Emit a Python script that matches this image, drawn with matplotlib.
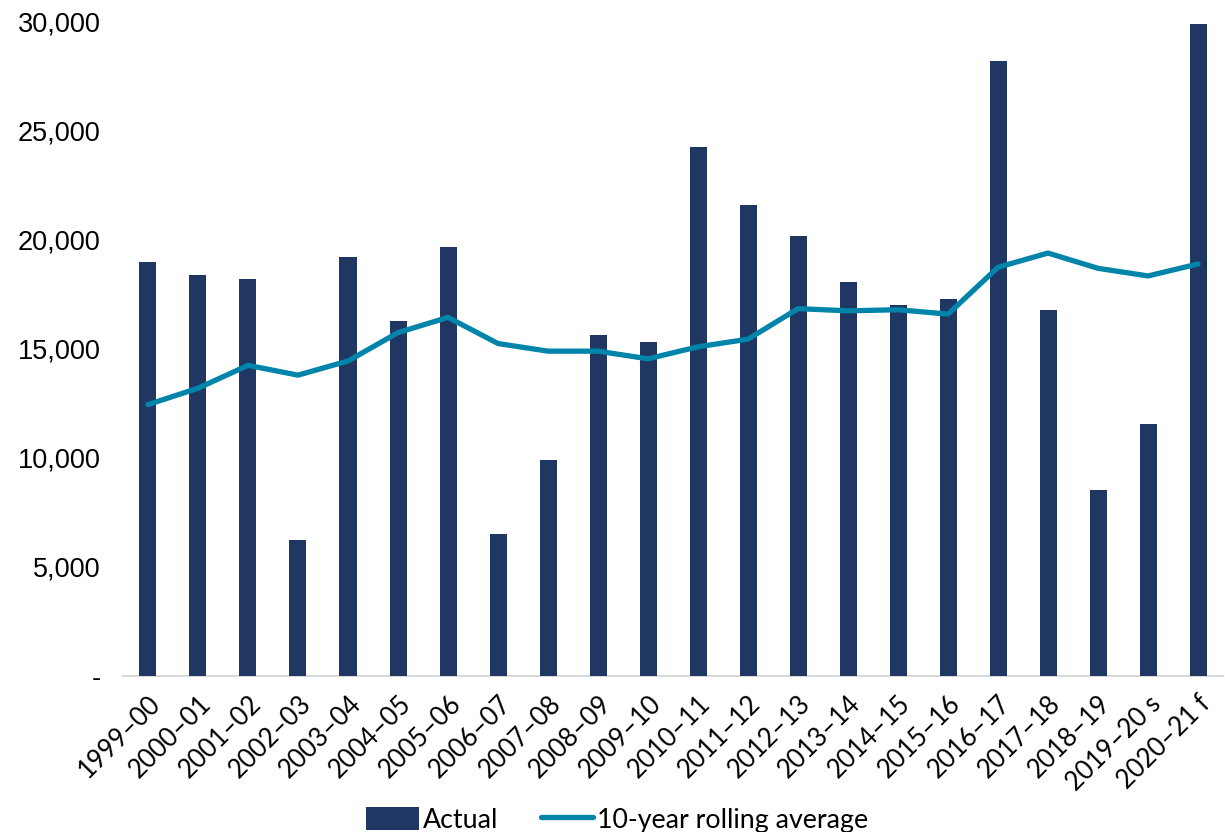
import matplotlib
matplotlib.use('Agg')
import matplotlib.pyplot as plt
import numpy as np
from matplotlib.ticker import FuncFormatter

# data
years = ['1999–00', '2000–01', '2001–02', '2002–03', '2003–04', '2004–05',
         '2005–06', '2006–07', '2007–08', '2008–09', '2009–10', '2010–11',
         '2011–12', '2012–13', '2013–14', '2014–15', '2015–16', '2016–17',
         '2017–18', '2018–19', '2019–20 s', '2020–21 f']
actual = [19000, 18400, 18200, 6250, 19200, 16300,
          19700, 6500, 9900, 15650, 15300, 24250,
          21600, 20200, 18050, 17000, 17300, 28200,
          16800, 8550, 11550, 29900]
rolling_avg = [12450, 13200, 14250, 13800, 14450, 15750,
               16450, 15250, 14900, 14900, 14550, 15100,
               15450, 16850, 16750, 16800, 16600, 18750,
               19400, 18700, 18350, 18900]

bar_color = '#213763'
line_color = '#0084A9'

fig = plt.figure(figsize=(12.25, 8.32), dpi=100)
ax = fig.add_axes([0.1004, 0.1875, 0.898, 0.7861])

x = np.arange(len(years))
bars = ax.bar(x, actual, width=0.34, color=bar_color, label='Actual', zorder=2)
line, = ax.plot(x, rolling_avg, color=line_color, lw=3.8, solid_joinstyle='round',
                solid_capstyle='round', label='10-year rolling average', zorder=3)

ax.set_xlim(-0.5, len(years) - 0.5)
ax.set_ylim(0, 30000)
ax.set_yticks(np.arange(0, 30001, 5000))
ax.yaxis.set_major_formatter(FuncFormatter(lambda v, p: '-' if v == 0 else f'{int(v):,}'))

for s in ['top', 'right', 'left']:
    ax.spines[s].set_visible(False)
ax.spines['bottom'].set_color('#D9D9D9')
ax.spines['bottom'].set_linewidth(1.5)
ax.spines['bottom'].set_zorder(1)

ax.tick_params(axis='y', length=0, pad=16, labelsize=19.5)
ax.tick_params(axis='x', length=0, pad=11)
for lab in ax.get_yticklabels():
    lab.set_fontfamily('Liberation Sans')

ax.set_xticks(x)
ax.set_xticklabels(years, rotation=45, ha='right', rotation_mode='anchor',
                   fontsize=18.5, family='Lato')

fig.legend([bars, line], ['Actual', '10-year rolling average'],
           loc='lower center', bbox_to_anchor=(0.504, -0.03), ncol=2,
           frameon=False, prop={'family': 'Lato', 'size': 19.3},
           handlelength=1.95, handleheight=0.95, handletextpad=0.15,
           columnspacing=1.6)

fig.savefig('out.png', dpi=100)
